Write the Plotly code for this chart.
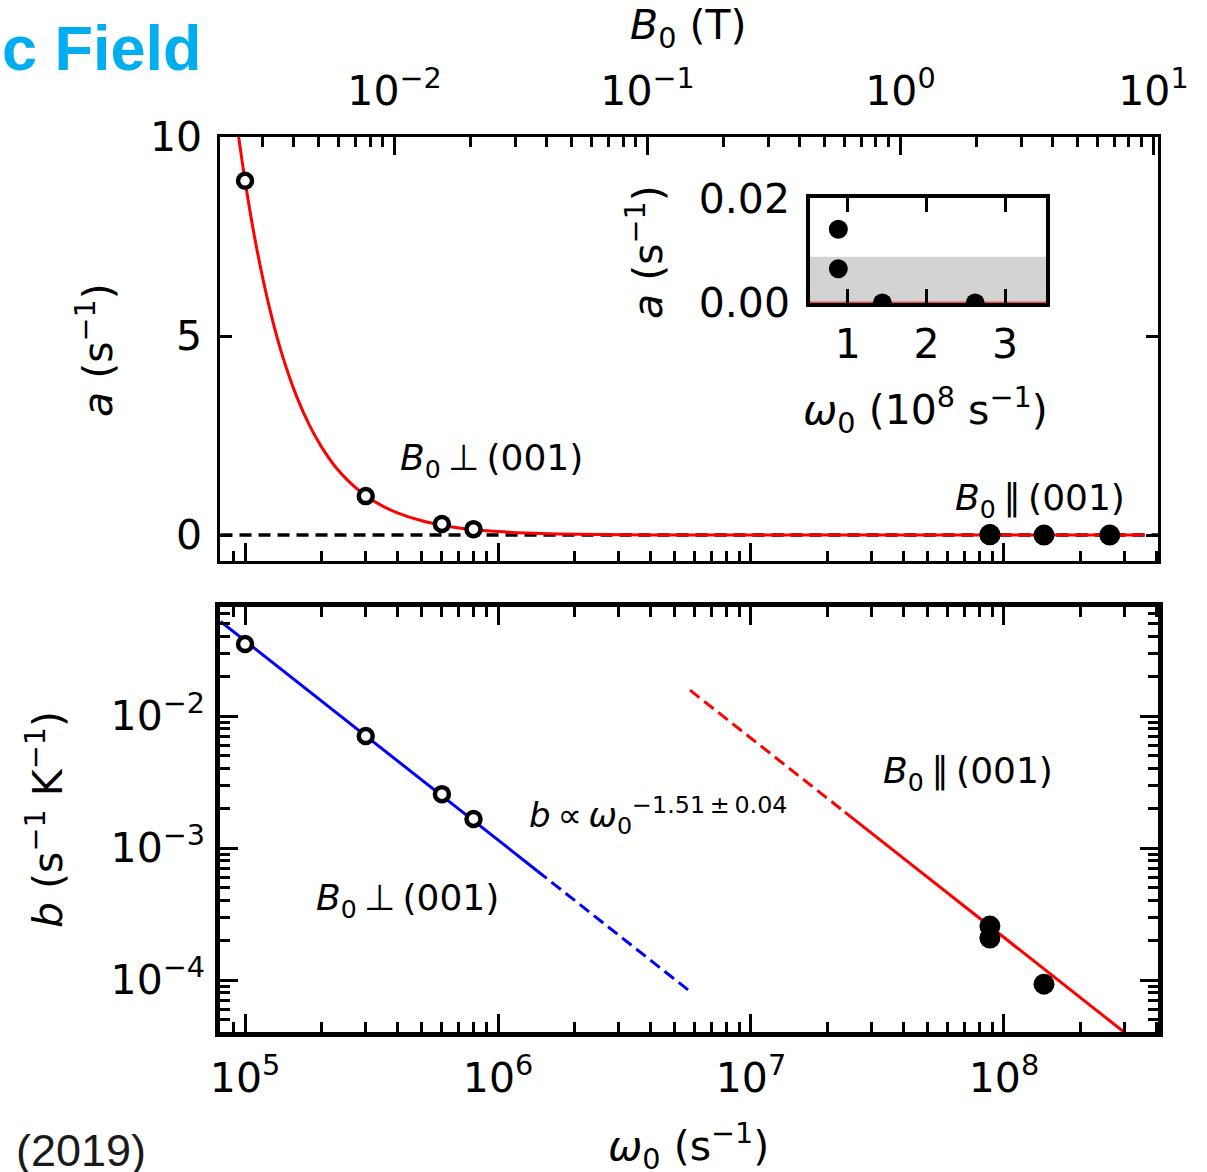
import math
import plotly.graph_objects as go

W, H = 1207, 1172

# ---------------- data ----------------
# B0 perpendicular to (001): open circles
perp_omega = [1.0e5, 3.0e5, 6.0e5, 8.0e5]          # s^-1
perp_a = [8.9, 0.98, 0.28, 0.15]                   # s^-1
perp_b = [3.51e-2, 7.05e-3, 2.56e-3, 1.66e-3]      # s^-1 K^-1

# B0 parallel to (001): filled circles
par_omega_a = [8.8e7, 8.8e7, 1.44e8, 2.62e8]
par_a = [0.0142, 0.0066, 0.0, 0.0]
par_omega_b = [8.8e7, 8.8e7, 1.44e8]
par_b = [2.56e-4, 2.08e-4, 9.3e-5]

# red fit curve of a(omega)
fit_omega = [9.0e4, 9.45e4, 1.0e5, 1.1e5, 1.25e5, 1.4e5, 1.6e5, 1.8e5, 2.0e5, 2.3e5,
             2.6e5, 3.0e5, 3.5e5, 4.0e5, 5.0e5, 6.0e5, 7.0e5, 8.0e5, 1.0e6, 1.3e6,
             1.7e6, 2.5e6, 4.0e6, 1.0e7, 3.0e7, 1.0e8, 3.6e8]
fit_a = [11.0, 9.97, 8.9, 7.36, 5.70, 4.54, 3.48, 2.75, 2.23, 1.68,
         1.32, 0.99, 0.73, 0.56, 0.36, 0.25, 0.18, 0.14, 0.089, 0.053,
         0.031, 0.014, 0.006, 0.001, 0.0001, 0.0, 0.0]

# zero reference (black dashed)
zero_omega = [8.0e4, 4.2e8]
zero_a = [0.0, 0.0]

# power-law lines in b panel
blue_solid_omega = [8.0e4, 1.43e6]
blue_solid_b = [5.2e-2, 6.7e-4]
blue_dash_omega = [1.43e6, 5.74e6]
blue_dash_b = [6.7e-4, 8.2e-5]
red_dash_omega = [5.74e6, 2.35e7]
red_dash_b = [1.57e-2, 1.87e-3]
red_solid_omega = [2.35e7, 3.0e8]
red_solid_b = [1.87e-3, 4.0e-5]

# inset (omega in 1e8 s^-1)
inset_omega = [v / 1e8 for v in par_omega_a]
inset_a = par_a
inset_fit_omega = [0.4, 3.7]
inset_fit_a = [0.0, 0.0]
inset_band = [0.0, 0.0089]

gamma = 3.9e7   # omega0 / B0 relation between bottom and top axes

# tick labels
x_tickvals = [1e5, 1e6, 1e7, 1e8]
x_ticktext = ["10<sup>5</sup>", "10<sup>6</sup>", "10<sup>7</sup>", "10<sup>8</sup>"]
B_tickvals = [1e-2, 1e-1, 1e0, 1e1]
B_ticktext = ["10<sup>\u22122</sup>", "10<sup>\u22121</sup>", "10<sup>0</sup>", "10<sup>1</sup>"]
b_tickvals = [1e-4, 1e-3, 1e-2]
b_ticktext = ["10<sup>\u22124</sup>", "10<sup>\u22123</sup>", "10<sup>\u22122</sup>"]
a_tickvals = [0, 5, 10]
inset_xticks = [1, 2, 3]
inset_yticks = [0.0, 0.02]
inset_yticktext = ["0.00", "0.02"]

# ---------------- layout helpers ----------------
def px(x):
    return x / W

def py(y):
    return 1 - y / H

FONT = "DejaVu Sans"
TICKF = dict(family=FONT, size=41, color="black")

def minor_log(lo, hi):
    return [m * 10 ** e for e in range(lo, hi) for m in range(2, 10)]

xr = [4.901, 8.609]
lg = math.log10(gamma)

fig = go.Figure()

# --- top panel ---
fig.add_trace(go.Scatter(x=zero_omega, y=zero_a, mode="lines",
                         line=dict(color="black", width=3.5, dash="12px,7px"),
                         xaxis="x", yaxis="y", hoverinfo="skip"))
fig.add_trace(go.Scatter(x=fit_omega, y=fit_a, mode="lines",
                         line=dict(color="red", width=3, shape="spline", smoothing=0.6),
                         xaxis="x", yaxis="y", hoverinfo="skip"))
fig.add_trace(go.Scatter(x=perp_omega, y=perp_a, mode="markers",
                         marker=dict(symbol="circle", size=14, color="white",
                                     line=dict(color="black", width=4.5)),
                         xaxis="x", yaxis="y"))
fig.add_trace(go.Scatter(x=par_omega_a, y=par_a, mode="markers",
                         marker=dict(symbol="circle", size=21, color="black",
                                     line=dict(width=0)),
                         xaxis="x", yaxis="y"))
# B0 top axis (invisible helper trace so the axis is drawn)
fig.add_trace(go.Scatter(x=[v / gamma for v in perp_omega], y=perp_a, mode="markers",
                         marker=dict(opacity=0), xaxis="x3", yaxis="y", hoverinfo="skip"))

# --- bottom panel ---
fig.add_trace(go.Scatter(x=blue_solid_omega, y=blue_solid_b, mode="lines",
                         line=dict(color="blue", width=3), xaxis="x2", yaxis="y2"))
fig.add_trace(go.Scatter(x=blue_dash_omega, y=blue_dash_b, mode="lines",
                         line=dict(color="blue", width=3, dash="12px,6px"), xaxis="x2", yaxis="y2"))
fig.add_trace(go.Scatter(x=red_dash_omega, y=red_dash_b, mode="lines",
                         line=dict(color="red", width=3, dash="12px,6px"), xaxis="x2", yaxis="y2"))
fig.add_trace(go.Scatter(x=red_solid_omega, y=red_solid_b, mode="lines",
                         line=dict(color="red", width=3), xaxis="x2", yaxis="y2"))
fig.add_trace(go.Scatter(x=perp_omega, y=perp_b, mode="markers",
                         marker=dict(symbol="circle", size=14, color="white",
                                     line=dict(color="black", width=4.5)),
                         xaxis="x2", yaxis="y2"))
fig.add_trace(go.Scatter(x=par_omega_b, y=par_b, mode="markers",
                         marker=dict(symbol="circle", size=21, color="black",
                                     line=dict(width=0)),
                         xaxis="x2", yaxis="y2"))

# --- inset ---
fig.add_trace(go.Scatter(x=inset_fit_omega, y=inset_fit_a, mode="lines",
                         line=dict(color="#e85050", width=3), xaxis="x4", yaxis="y4"))
fig.add_trace(go.Scatter(x=inset_omega, y=inset_a, mode="markers",
                         marker=dict(symbol="circle", size=19, color="black", line=dict(width=0)),
                         xaxis="x4", yaxis="y4"))

fig.add_shape(type="rect", xref="x4 domain", yref="y4", x0=0, x1=1,
              y0=inset_band[0], y1=inset_band[1], fillcolor="#d3d3d3",
              line=dict(width=0), layer="below")

common = dict(showgrid=False, zeroline=False, showline=True, linecolor="black",
              ticks="inside", tickcolor="black", tickfont=TICKF, automargin=False)

dom_x = [px(220), px(1158)]

fig.update_layout(
    template="none",
    width=W, height=H,
    margin=dict(l=0, r=0, t=0, b=0, pad=0),
    paper_bgcolor="white", plot_bgcolor="rgba(0,0,0,0)",
    showlegend=False,
    font=dict(family=FONT, color="black"),
    xaxis=dict(**common, domain=dom_x, anchor="y", type="log", range=xr,
               tickmode="array", tickvals=x_tickvals, showticklabels=False,
               ticklen=18, tickwidth=2.5, linewidth=2.5, mirror=False,
               minor=dict(ticks="inside", ticklen=10, tickwidth=3, tickcolor="black",
                          tickmode="array", tickvals=minor_log(4, 9), showgrid=False)),
    yaxis=dict(**common, domain=[py(561), py(137)], anchor="x", range=[-0.65, 10],
               tickmode="array", tickvals=a_tickvals, ticklen=12, tickwidth=2.5,
               linewidth=2.5, mirror="ticks", ticklabelstandoff=7),
    xaxis3=dict(**common, overlaying="x", anchor="y", side="top", type="log",
                range=[xr[0] - lg, xr[1] - lg],
                tickmode="array", tickvals=B_tickvals, ticktext=B_ticktext,
                ticklen=18, tickwidth=2.5, linewidth=2.5, ticklabelstandoff=13,
                minor=dict(ticks="inside", ticklen=10, tickwidth=3, tickcolor="black",
                           tickmode="array", tickvals=minor_log(-3, 2), showgrid=False)),
    xaxis2=dict(**common, domain=dom_x, anchor="y2", type="log", range=xr,
                tickmode="array", tickvals=x_tickvals, ticktext=x_ticktext,
                ticklen=18, tickwidth=2.5, linewidth=4.5, mirror="ticks",
                ticklabelstandoff=6,
                minor=dict(ticks="inside", ticklen=10, tickwidth=3, tickcolor="black",
                           tickmode="array", tickvals=minor_log(4, 9), showgrid=False)),
    yaxis2=dict(**common, domain=[py(1032), py(607)], anchor="x2", type="log",
                range=[-4.394, -1.174],
                tickmode="array", tickvals=b_tickvals, ticktext=b_ticktext,
                ticklen=18, tickwidth=2.5, linewidth=4.5, mirror="ticks",
                ticklabelstandoff=2,
                minor=dict(ticks="inside", ticklen=10, tickwidth=3, tickcolor="black",
                           tickmode="array", tickvals=minor_log(-5, -1), showgrid=False)),
    xaxis4=dict(**common, domain=[px(810), px(1046)], anchor="y4", range=[0.52, 3.52],
                tickmode="array", tickvals=inset_xticks, ticklen=14, tickwidth=2.5,
                linewidth=3.5, mirror="ticks", ticklabelstandoff=2),
    yaxis4=dict(**common, domain=[py(303), py(198)], anchor="x4", range=[0, 0.0202],
                tickmode="array", tickvals=inset_yticks, ticktext=inset_yticktext,
                ticklen=0, tickwidth=2.5, linewidth=3.5, mirror=True,
                ticklabelstandoff=8),
)

ann_font = dict(family=FONT, size=36, color="black")
lab_font = dict(family=FONT, size=41, color="black")
TS = "\u2009"  # thin space

annots = [
    # axis titles
    dict(x=px(688), y=py(28), text="<i>B</i><sub>0</sub> (T)", font=lab_font),
    dict(x=px(688), y=py(1146), text="<i>\u03c9</i><sub>0</sub> (s<sup>\u22121</sup>)", font=lab_font),
    dict(x=px(95), y=py(350), text="<i>a</i> (s<sup>\u22121</sup>)", font=lab_font, textangle=-90),
    dict(x=px(45), y=py(820), text="<i>b</i> (s<sup>\u22121</sup> K<sup>\u22121</sup>)",
         font=lab_font, textangle=-90),
    dict(x=px(645), y=py(252), text="<i>a</i> (s<sup>\u22121</sup>)", font=lab_font, textangle=-90),
    dict(x=px(925), y=py(410), text="<i>\u03c9</i><sub>0</sub> (10<sup>8</sup> s<sup>\u22121</sup>)",
         font=lab_font),
    # in-plot labels
    dict(x=px(491), y=py(460), text=f"<i>B</i><sub>0</sub>{TS}\u22a5{TS}(001)", font=ann_font),
    dict(x=px(1040), y=py(500), text=f"<i>B</i><sub>0</sub>{TS}\u2225{TS}(001)", font=ann_font),
    dict(x=px(968), y=py(773), text=f"<i>B</i><sub>0</sub>{TS}\u2225{TS}(001)", font=ann_font),
    dict(x=px(407), y=py(900), text=f"<i>B</i><sub>0</sub>{TS}\u22a5{TS}(001)", font=ann_font),
    dict(x=px(527), y=py(815), xanchor="left",
         text=f"<i>b</i>{TS}\u221d{TS}<i>\u03c9</i><sub>0</sub><sup>\u22121.51{TS}\u00b1{TS}0.04</sup>",
         font=dict(family=FONT, size=34, color="black")),
    # cropped page text
    dict(x=0, y=py(48), xanchor="left", text="<b>c Field</b>",
         font=dict(family="Liberation Sans", size=63, color="#00aeef")),
    dict(x=px(14), y=py(1150), xanchor="left", text="(2019)",
         font=dict(family="Liberation Sans", size=45, color="#1a1a1a")),
]
for a in annots:
    a.setdefault("xanchor", "center")
    a.setdefault("yanchor", "middle")
    a.update(xref="paper", yref="paper", showarrow=False)
    fig.add_annotation(**a)

fig.write_html("out.html", config={"displayModeBar": False},
               post_script="document.body.style.margin='0px';document.body.style.overflow='hidden';")
